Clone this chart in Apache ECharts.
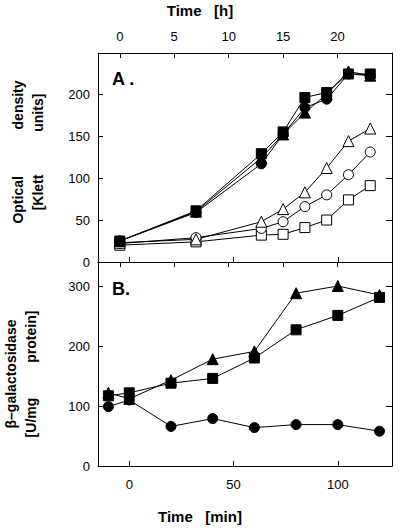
<!DOCTYPE html>
<html>
<head>
<meta charset="utf-8">
<script src="https://cdn.jsdelivr.net/npm/echarts@6/dist/echarts.min.js"></script>
<style>
html,body{margin:0;padding:0;background:#fff;}
#c{width:400px;height:532px;}
</style>
</head>
<body>
<div id="c"></div>
<script>
// Panel A: optical density vs time in hours
var hoursA = [0, 7, 13, 15, 17, 19, 21, 23];
var filledSquareA = [25, 61, 129, 155, 196, 202, 224, 224];
var filledCircleA = [25, 59, 117, 152, 184, 194, 224, 222];
var filledTriangleA = [25, 60, 124, 152, 178, 200, 227, 222];
var openTriangleA = [23, 27, 48, 63, 83, 112, 144, 159];
var openCircleA = [22, 29, 40, 48, 66, 80, 104, 131];
var openSquareA = [20, 24, 32, 33, 41, 50, 74, 91];

// Panel B: beta-galactosidase vs time in minutes
var minutesB = [-10, 0, 20, 40, 60, 80, 100, 120];
var triangleB = [122, 112, 143, 178, 191, 288, 300, 285];
var squareB = [117, 122, 138, 146, 180, 227, 251, 281];
var circleB = [99, 110, 66, 79, 64, 69, 69, 58];

// Tick labels
var hourTicks = [0, 5, 10, 15, 20];
var minuteTicks = [0, 50, 100];
var odTicks = [0, 50, 100, 150, 200];
var galTicks = [0, 100, 200, 300];

function pairs(xs, ys) { return xs.map(function (x, i) { return [x, ys[i]]; }); }

var FONT = 'Liberation Sans';
var lbl = { color: '#000', fontFamily: FONT, fontSize: 13 };
var line = { onZero: false, lineStyle: { color: '#000', width: 1 } };

function mk(name, xi, yi, xs, ys, symbol, filled, size) {
  return {
    name: name, type: 'line', xAxisIndex: xi, yAxisIndex: yi,
    data: pairs(xs, ys), symbol: symbol, symbolSize: size,
    showAllSymbol: true, animation: false,
    lineStyle: { color: '#000', width: 1 },
    itemStyle: filled ? { color: '#000', borderColor: '#000', borderWidth: 1 }
                      : { color: '#fff', borderColor: '#000', borderWidth: 1 },
    emphasis: { disabled: true }, z: filled ? 3 : 2
  };
}

var chart = echarts.init(document.getElementById('c'), null, { renderer: 'svg' });
chart.setOption({
  backgroundColor: '#fff',
  animation: false,
  grid: [
    { left: 98, right: 8, top: 53, height: 209 },
    { left: 98, right: 8, top: 262, height: 204 }
  ],
  xAxis: [
    { gridIndex: 0, type: 'value', position: 'top', min: -2, max: 25,
      axisLine: line, splitLine: { show: false },
      axisTick: { inside: true, length: 5, lineStyle: { color: '#000' }, customValues: hourTicks },
      axisLabel: Object.assign({ customValues: hourTicks, margin: 10 }, lbl) },
    { gridIndex: 0, type: 'value', position: 'bottom', min: -15, max: 126,
      axisLine: line, splitLine: { show: false },
      axisTick: { inside: true, length: 5, lineStyle: { color: '#000' }, customValues: minuteTicks },
      axisLabel: { show: false } },
    { gridIndex: 1, type: 'value', position: 'top', min: -2, max: 25,
      axisLine: line, splitLine: { show: false },
      axisTick: { inside: true, length: 5, lineStyle: { color: '#000' }, customValues: hourTicks },
      axisLabel: { show: false } },
    { gridIndex: 1, type: 'value', position: 'bottom', min: -15, max: 126,
      axisLine: line, splitLine: { show: false },
      axisTick: { inside: true, length: 5, lineStyle: { color: '#000' }, customValues: minuteTicks },
      axisLabel: Object.assign({ customValues: minuteTicks, margin: 12 }, lbl) }
  ],
  yAxis: [
    { gridIndex: 0, type: 'value', position: 'left', min: 0, max: 249,
      axisLine: line, splitLine: { show: false },
      axisTick: { inside: true, length: 5, lineStyle: { color: '#000' }, customValues: odTicks },
      axisLabel: Object.assign({ customValues: odTicks, margin: 8 }, lbl) },
    { gridIndex: 0, type: 'value', position: 'right', min: 0, max: 249,
      axisLine: line, splitLine: { show: false },
      axisTick: { inside: true, length: 6, lineStyle: { color: '#000' }, customValues: odTicks },
      axisLabel: { show: false } },
    { gridIndex: 1, type: 'value', position: 'left', min: 0, max: 340,
      axisLine: line, splitLine: { show: false },
      axisTick: { inside: true, length: 5, lineStyle: { color: '#000' }, customValues: galTicks },
      axisLabel: Object.assign({ customValues: galTicks, margin: 8 }, lbl) },
    { gridIndex: 1, type: 'value', position: 'right', min: 0, max: 340,
      axisLine: line, splitLine: { show: false },
      axisTick: { inside: true, length: 6, lineStyle: { color: '#000' }, customValues: galTicks },
      axisLabel: { show: false } }
  ],
  series: [
    mk('openSquareA', 0, 0, hoursA, openSquareA, 'rect', false, 10),
    mk('openCircleA', 0, 0, hoursA, openCircleA, 'circle', false, 10),
    mk('openTriangleA', 0, 0, hoursA, openTriangleA, 'triangle', false, 11),
    mk('filledTriangleA', 0, 0, hoursA, filledTriangleA, 'triangle', true, 11),
    mk('filledCircleA', 0, 0, hoursA, filledCircleA, 'circle', true, 10),
    mk('filledSquareA', 0, 0, hoursA, filledSquareA, 'rect', true, 10),
    mk('circleB', 3, 2, minutesB, circleB, 'circle', true, 10),
    mk('triangleB', 3, 2, minutesB, triangleB, 'triangle', true, 11),
    mk('squareB', 3, 2, minutesB, squareB, 'rect', true, 10)
  ],
  graphic: [
    { type: 'text', left: 'center', top: 3, style: { text: 'Time   [h]', font: 'bold 15px "Liberation Sans"', fill: '#000' }, x: 8 },
    { type: 'text', top: 509, left: 'center', style: { text: 'Time   [min]', font: 'bold 15px "Liberation Sans"', fill: '#000' }, x: 10 },
    { type: 'text', x: 112, y: 70, style: { text: 'A .', font: 'bold 18px "Liberation Sans"', fill: '#000' } },
    { type: 'text', x: 112, y: 280, style: { text: 'B.', font: 'bold 18px "Liberation Sans"', fill: '#000' } },
    { type: 'text', x: 18, y: 152, rotation: Math.PI / 2,
      style: { text: 'Optical            density', font: 'bold 14px "Liberation Sans"', fill: '#000', align: 'center', verticalAlign: 'middle' } },
    { type: 'text', x: 38, y: 152, rotation: Math.PI / 2,
      style: { text: '[Klett           units]', font: 'bold 14px "Liberation Sans"', fill: '#000', align: 'center', verticalAlign: 'middle' } },
    { type: 'text', x: 11, y: 374, rotation: Math.PI / 2,
      style: { text: 'β–galactosidase', font: 'bold 14px "Liberation Sans"', fill: '#000', align: 'center', verticalAlign: 'middle' } },
    { type: 'text', x: 31, y: 374, rotation: Math.PI / 2,
      style: { text: '[U/mg         protein]', font: 'bold 14px "Liberation Sans"', fill: '#000', align: 'center', verticalAlign: 'middle' } }
  ]
});
</script>
</body>
</html>
